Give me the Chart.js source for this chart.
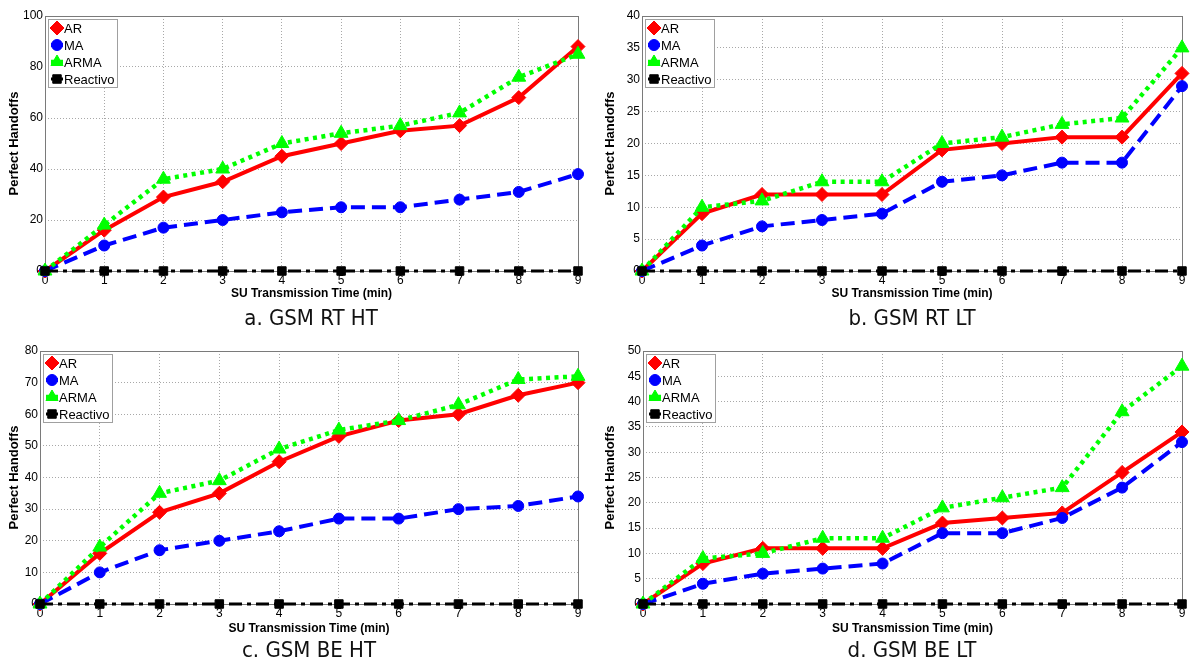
<!DOCTYPE html>
<html>
<head>
<meta charset="utf-8">
<title>Perfect Handoffs</title>
<script src="https://cdn.jsdelivr.net/npm/chart.js@4.4.1/dist/chart.umd.min.js"></script>
<style>
  body { margin: 0; background: #fff; }
  #wrap { position: relative; width: 1192px; height: 662px; overflow: hidden; }
  #wrap canvas { position: absolute; }
  .cap {
    position: absolute; width: 300px; height: 28px; line-height: 28px;
    text-align: center; color: #111;
    font-family: "Liberation Sans Narrow", "DejaVu Sans Condensed", "Liberation Sans", sans-serif;
    font-stretch: condensed; font-size: 22px;
  }
</style>
</head>
<body>
<div id="wrap">
  <canvas id="c1" width="596" height="331" style="left:0;top:0"></canvas>
  <canvas id="c2" width="596" height="331" style="left:596px;top:0"></canvas>
  <canvas id="c3" width="596" height="331" style="left:0;top:331px"></canvas>
  <canvas id="c4" width="596" height="331" style="left:596px;top:331px"></canvas>
  <div class="cap" style="left:161px;top:304px">a. GSM RT HT</div>
  <div class="cap" style="left:762px;top:304px">b. GSM RT LT</div>
  <div class="cap" style="left:159px;top:636px">c. GSM BE HT</div>
  <div class="cap" style="left:762px;top:636px">d. GSM BE LT</div>
</div>
<script>
var minutes = [0, 1, 2, 3, 4, 5, 6, 7, 8, 9];
var seriesNames = ["AR", "MA", "ARMA", "Reactivo"];

// GSM RT HT
var rtHtAR       = [0, 16, 29, 35, 45, 50, 55, 57, 68, 88];
var rtHtMA       = [0, 10, 17, 20, 23, 25, 25, 28, 31, 38];
var rtHtARMA     = [0, 18, 36, 40, 50, 54, 57, 62, 76, 85];
var rtHtReactivo = [0, 0, 0, 0, 0, 0, 0, 0, 0, 0];

// GSM RT LT
var rtLtAR       = [0, 9, 12, 12, 12, 19, 20, 21, 21, 31];
var rtLtMA       = [0, 4, 7, 8, 9, 14, 15, 17, 17, 29];
var rtLtARMA     = [0, 10, 11, 14, 14, 20, 21, 23, 24, 35];
var rtLtReactivo = [0, 0, 0, 0, 0, 0, 0, 0, 0, 0];

// GSM BE HT
var beHtAR       = [0, 16, 29, 35, 45, 53, 58, 60, 66, 70];
var beHtMA       = [0, 10, 17, 20, 23, 27, 27, 30, 31, 34];
var beHtARMA     = [0, 18, 35, 39, 49, 55, 58, 63, 71, 72];
var beHtReactivo = [0, 0, 0, 0, 0, 0, 0, 0, 0, 0];

// GSM BE LT
var beLtAR       = [0, 8, 11, 11, 11, 16, 17, 18, 26, 34];
var beLtMA       = [0, 4, 6, 7, 8, 14, 14, 17, 23, 32];
var beLtARMA     = [0, 9, 10, 13, 13, 19, 21, 23, 38, 47];
var beLtReactivo = [0, 0, 0, 0, 0, 0, 0, 0, 0, 0];

Chart.defaults.font.family = '"Liberation Sans", Arial, sans-serif';
Chart.defaults.color = '#000';

var lineStyles = [
  { color: '#ff0000', width: 4,   dash: [],            point: 'rectRot',  r: 7 },
  { color: '#0000ff', width: 4,   dash: [14, 7],       point: 'circle',   r: 5.5 },
  { color: '#00ff00', width: 4.5, dash: [4, 4.5],      point: 'triangle', r: 8 },
  { color: '#000000', width: 3,   dash: [13, 5, 4, 5], point: 'rect',     r: 6 }
];

function buildDatasets(series) {
  return series.map(function (vals, i) {
    var s = lineStyles[i];
    return {
      label: seriesNames[i],
      data: minutes.map(function (m, k) { return { x: m, y: vals[k] }; }),
      borderColor: s.color,
      backgroundColor: s.color,
      borderWidth: s.width,
      borderDash: s.dash,
      borderCapStyle: 'butt',
      pointStyle: s.point,
      pointRadius: s.r,
      pointBorderWidth: 1,
      pointBackgroundColor: s.color,
      pointBorderColor: s.color,
      tension: 0,
      clip: false,
      order: 4 - i
    };
  });
}

function markerAt(ctx, style, x, y) {
  ctx.fillStyle = style.color;
  ctx.strokeStyle = style.color;
  ctx.lineWidth = 1;
  if (Chart.helpers && Chart.helpers.drawPoint) {
    Chart.helpers.drawPoint(ctx, { pointStyle: style.point, radius: Math.min(style.r, 7), rotation: 0, borderWidth: 1 }, x, y);
  } else {
    ctx.beginPath();
    ctx.arc(x, y, style.r, 0, Math.PI * 2);
    ctx.fill();
  }
}

// box around the axes plus a MATLAB style legend in the upper left corner
var boxAndLegend = {
  id: 'boxAndLegend',
  beforeDatasetsDraw: function (chart) {
    var a = chart.chartArea, ctx = chart.ctx;
    ctx.save();
    ctx.strokeStyle = '#7a7a7a';
    ctx.lineWidth = 1;
    ctx.strokeRect(Math.round(a.left) + 0.5, Math.round(a.top) + 0.5,
                   Math.round(a.right - a.left), Math.round(a.bottom - a.top));
    ctx.restore();
  },
  afterDatasetsDraw: function (chart) {
    var a = chart.chartArea, ctx = chart.ctx;
    var bx = Math.round(a.left) + 3, by = Math.round(a.top) + 3;
    ctx.save();
    ctx.fillStyle = '#fff';
    ctx.fillRect(bx, by, 69, 68);
    ctx.strokeStyle = '#a0a0a0';
    ctx.lineWidth = 1;
    ctx.strokeRect(bx + 0.5, by + 0.5, 69, 68);
    ctx.font = '13px "Liberation Sans", Arial, sans-serif';
    ctx.textBaseline = 'middle';
    chart.data.datasets.forEach(function (ds, i) {
      var s = lineStyles[i];
      var y = by + 9 + i * 17;
      var mx = bx + 9;
      ctx.save();
      ctx.strokeStyle = s.color;
      ctx.lineWidth = s.width;
      ctx.beginPath();
      ctx.moveTo(mx - 6, y);
      ctx.lineTo(mx + 6, y);
      ctx.stroke();
      ctx.restore();
      markerAt(ctx, s, mx, y);
      ctx.fillStyle = '#000';
      ctx.fillText(ds.label, bx + 16, y + 1);
    });
    ctx.restore();
  }
};

function makePanel(id, series, yMax, yStep, box) {
  return new Chart(document.getElementById(id), {
    type: 'line',
    data: { datasets: buildDatasets(series) },
    plugins: [boxAndLegend],
    options: {
      responsive: false,
      animation: false,
      layout: { padding: { top: box.top, right: box.right, left: 0, bottom: 0 } },
      plugins: { legend: { display: false }, tooltip: { enabled: false } },
      scales: {
        x: {
          type: 'linear', min: 0, max: 9,
          afterFit: function (s) { s.height = box.xh; },
          ticks: { stepSize: 1, padding: 2, font: { size: 12 } },
          grid: { color: '#a8a8a8', drawTicks: false, tickLength: 0 },
          border: { display: false, dash: [1, 2] },
          title: {
            display: true, text: 'SU Transmission Time (min)',
            font: { size: 12, weight: 'bold' },
            padding: { top: 0, bottom: box.titleGap }
          }
        },
        y: {
          min: 0, max: yMax,
          afterFit: function (s) { s.width = box.yw; },
          ticks: { stepSize: yStep, padding: 2, font: { size: 12 } },
          grid: { color: '#a8a8a8', drawTicks: false, tickLength: 0 },
          border: { display: false, dash: [1, 2] },
          title: {
            display: true, text: 'Perfect Handoffs',
            font: { size: 13, weight: 'bold' },
            padding: { top: 7, bottom: 0 }
          }
        }
      }
    }
  });
}

makePanel('c1', [rtHtAR, rtHtMA, rtHtARMA, rtHtReactivo], 100, 20,
  { top: 16, right: 18, yw: 45, xh: 60, titleGap: 30 });
makePanel('c2', [rtLtAR, rtLtMA, rtLtARMA, rtLtReactivo], 40, 5,
  { top: 16, right: 10, yw: 46, xh: 60, titleGap: 30 });
makePanel('c3', [beHtAR, beHtMA, beHtARMA, beHtReactivo], 80, 10,
  { top: 20, right: 18, yw: 40, xh: 58, titleGap: 26 });
makePanel('c4', [beLtAR, beLtMA, beLtARMA, beLtReactivo], 50, 5,
  { top: 20, right: 10, yw: 47, xh: 58, titleGap: 26 });
</script>
</body>
</html>
